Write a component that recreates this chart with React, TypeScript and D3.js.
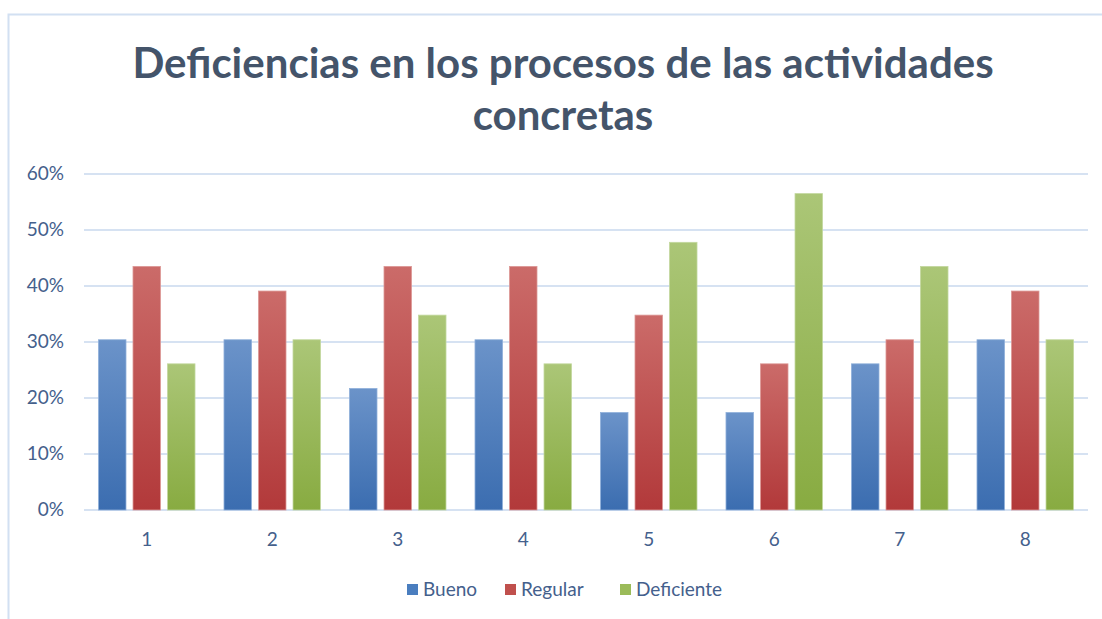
import React from "react";
import * as d3 from "d3";

const categories = ["1", "2", "3", "4", "5", "6", "7", "8"];
const seriesNames = ["Bueno", "Regular", "Deficiente"];
const bueno = [30.4, 30.4, 21.7, 30.4, 17.4, 17.4, 26.1, 30.4];
const regular = [43.5, 39.1, 43.5, 43.5, 34.8, 26.1, 30.4, 39.1];
const deficiente = [26.1, 30.4, 34.8, 26.1, 47.8, 56.5, 43.5, 30.4];
const yTicks = [0, 10, 20, 30, 40, 50, 60];

const seriesValues = [bueno, regular, deficiente];
const grads = [
  { top: "#6b93c9", bottom: "#3b6db0", edge: "#8fb0da", legend: "#4a7ebf" },
  { top: "#cb6b69", bottom: "#b2393a", edge: "#dc9896", legend: "#c0504d" },
  { top: "#abc677", bottom: "#88ab41", edge: "#c3d89f", legend: "#9bbb59" },
];

const W = 1102;
const H = 619;
const left = 84;
const right = 1088;
const top = 174;
const bottom = 510;

export default function App() {
  const x0 = d3.scaleBand().domain(categories).range([left, right]);
  const xs = d3.scaleBand().domain(seriesNames).range([0, x0.bandwidth()]).paddingInner(0.203).paddingOuter(0.42);
  const y = d3.scaleLinear().domain([0, 60]).range([bottom, top]);
  const font = "Lato, 'Open Sans', sans-serif";
  const labelColor = "#44608c";

  const legendX = [407, 505, 620];

  return (
    <svg width={W} height={H} style={{ position: "absolute", left: 0, top: 0 }}>
      <defs>
        {grads.map((g, i) => (
          <linearGradient key={i} id={`g${i}`} x1="0" y1="0" x2="0" y2="1">
            <stop offset="0%" stopColor={g.top} />
            <stop offset="100%" stopColor={g.bottom} />
          </linearGradient>
        ))}
      </defs>
      <rect x={0} y={0} width={W} height={H} fill="#fff" />
      <path d={`M8.5,${H} V14.5 H${W}`} fill="none" stroke="#d2e0f2" strokeWidth={2} />
      <text x={563} y={78} textAnchor="middle" fontFamily={font} fontWeight={700} fontSize={42} fill="#44546a">
        Deficiencias en los procesos de las actividades
      </text>
      <text x={563} y={130} textAnchor="middle" fontFamily={font} fontWeight={700} fontSize={42} fill="#44546a">
        concretas
      </text>
      {yTicks.map((t) => (
        <g key={t}>
          <line x1={left} x2={right} y1={y(t)} y2={y(t)} stroke="#d6e2f2" strokeWidth={2} />
          <text x={64} y={y(t) + 6} textAnchor="end" fontFamily={font} fontSize={19} fill={labelColor}>
            {t}%
          </text>
        </g>
      ))}
      {categories.map((c, ci) => (
        <g key={c}>
          {seriesValues.map((vals, si) => (
            <rect
              key={si}
              x={(x0(c) ?? 0) + (xs(seriesNames[si]) ?? 0)}
              y={y(vals[ci])}
              width={xs.bandwidth()}
              height={y(0) - y(vals[ci])}
              fill={`url(#g${si})`}
              stroke={grads[si].edge}
              strokeWidth={0.8}
            />
          ))}
          <text x={(x0(c) ?? 0) + x0.bandwidth() / 2} y={546} textAnchor="middle" fontFamily={font} fontSize={19} fill={labelColor}>
            {c}
          </text>
        </g>
      ))}
      {seriesNames.map((s, i) => (
        <g key={s}>
          <rect x={legendX[i]} y={584} width={11} height={11} fill={grads[i].legend} />
          <text x={legendX[i] + 16} y={596} fontFamily={font} fontSize={19} fill={labelColor}>
            {s}
          </text>
        </g>
      ))}
    </svg>
  );
}
